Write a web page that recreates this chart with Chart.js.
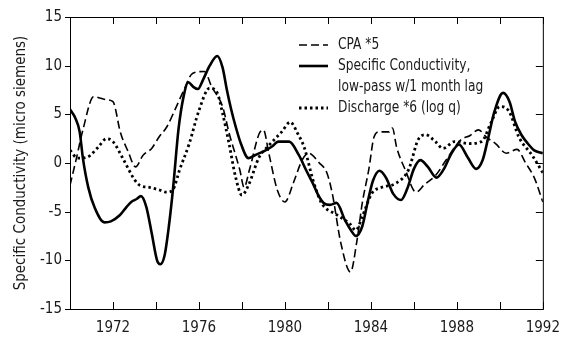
<!DOCTYPE html>
<html>
<head>
<meta charset="utf-8">
<script src="https://cdn.jsdelivr.net/npm/chart.js@4/dist/chart.umd.min.js"></script>
<style>
  html, body { margin: 0; padding: 0; background: #fff; }
  #wrap { width: 562px; height: 337px; position: relative; }
</style>
</head>
<body>
<div id="wrap"><canvas id="chart"></canvas></div>
<script>
// series (year, value)
const cpaYears = [1970.0, 1970.3, 1970.6, 1971.1, 1971.7, 1972.0, 1972.35, 1972.7, 1973.05, 1973.4, 1973.8, 1974.15, 1974.5,
  1974.95, 1975.3, 1975.7, 1976.25, 1976.6, 1977.1, 1977.4, 1977.9, 1978.1, 1978.35, 1978.8, 1979.0, 1979.25, 1979.65,
  1980.0, 1980.4, 1980.8, 1981.1, 1981.6, 1981.95, 1982.2, 1982.6, 1983.05, 1983.35, 1983.6, 1983.9, 1984.15, 1984.4,
  1984.85, 1985.0, 1985.2, 1985.6, 1986.1, 1986.5, 1987.0, 1987.5, 1988.2, 1988.6, 1989.0, 1989.4, 1989.8, 1990.3,
  1990.8, 1991.2, 1991.6, 1992.0];
const cpaValues = [-2.3, 0.5, 3.4, 6.8, 6.5, 6.3, 3.1, 1.2, -0.4, 0.8, 1.5, 2.7, 3.7,
  5.8, 7.5, 9.2, 9.4, 7.8, 5.8, 3.1, -0.7, -2.5, -0.7, 3.0, 3.4, 1.0, -2.8,
  -4.0, -2.0, 0.3, 1.0, 0.0, -1.0, -3.1, -8.2, -11.2, -8.0, -4.1, -0.7, 2.7, 3.2,
  3.2, 3.6, 1.6, -0.7, -3.0, -2.2, -1.3, 0.3, 2.4, 2.8, 3.4, 2.6, 2.0, 1.0,
  1.4, 0.0, -1.5, -4.0];

const condYears = [1970.0, 1970.25, 1970.45, 1970.6, 1970.85, 1971.15, 1971.6, 1971.9, 1972.3, 1972.6, 1972.85, 1973.1,
  1973.3, 1973.55, 1973.8, 1974.05, 1974.2, 1974.4, 1974.6, 1974.8, 1975.05, 1975.3, 1975.5, 1975.75, 1975.95, 1976.2,
  1976.5, 1976.85, 1977.1, 1977.3, 1977.5, 1977.7, 1977.95, 1978.3, 1978.6, 1979.1, 1979.4, 1979.7, 1980.2, 1980.65,
  1981.0, 1981.3, 1981.55, 1981.8, 1982.1, 1982.4, 1982.8, 1983.1, 1983.3, 1983.6, 1983.85, 1984.1, 1984.4, 1984.7,
  1985.05, 1985.4, 1985.7, 1986.0, 1986.3, 1986.65, 1987.05, 1987.4, 1987.75, 1988.1, 1988.5, 1988.9, 1989.2, 1989.45,
  1989.75, 1990.15, 1990.45, 1990.7, 1991.0, 1991.3, 1991.6, 1992.0];
const condValues = [5.5, 4.6, 3.2, 0.5, -2.5, -4.6, -6.1, -6.0, -5.4, -4.6, -4.0, -3.7,
  -3.4, -4.5, -7.2, -10.0, -10.4, -9.5, -6.5, -2.5, 3.5, 7.0, 8.3, 7.8, 7.6, 8.6,
  10.0, 11.0, 9.8, 7.5, 5.5, 3.8, 2.0, 0.5, 0.8, 1.3, 1.7, 2.2, 2.2, 0.8,
  -0.8, -2.1, -3.3, -4.1, -4.3, -4.1, -5.9, -7.0, -7.5, -6.5, -4.0, -1.8, -0.8, -1.5,
  -3.2, -3.8, -2.6, -0.6, 0.3, -0.4, -1.5, -0.6, 1.0, 1.9, 0.6, -0.6, 0.3, 2.5,
  5.3, 7.2, 6.3, 4.3, 2.9, 2.0, 1.3, 1.0];

const disYears = [1970.0, 1970.35, 1970.8, 1971.3, 1971.7, 1972.0, 1972.5, 1973.0, 1973.25, 1973.7, 1974.2, 1974.5,
  1974.8, 1975.1, 1975.55, 1976.0, 1976.5, 1976.85, 1977.1, 1977.4, 1977.7, 1978.0, 1978.3, 1978.8, 1979.25, 1979.85,
  1980.25, 1980.6, 1980.9, 1981.3, 1981.7, 1982.4, 1983.0, 1983.3, 1983.6, 1984.05, 1984.5, 1985.15, 1985.75, 1986.2,
  1986.55, 1987.0, 1987.35, 1987.9, 1988.55, 1989.15, 1989.6, 1990.0, 1990.4, 1990.9, 1991.5, 1992.0];
const disValues = [1.3, 0.5, 0.6, 1.6, 2.5, 2.2, 0.3, -1.7, -2.3, -2.5, -2.8, -3.0,
  -2.7, -0.7, 2.0, 5.4, 7.7, 7.2, 5.1, 2.0, -1.4, -3.3, -2.3, 0.6, 1.8, 3.2,
  4.2, 3.0, 1.6, -1.7, -4.1, -5.3, -6.2, -6.9, -5.5, -3.1, -2.5, -2.1, -0.7, 2.4,
  2.9, 2.2, 1.5, 2.2, 2.0, 2.2, 4.2, 5.8, 5.4, 2.6, 0.8, -1.0];

const yTicks = [-15, -10, -5, 0, 5, 10, 15];
const yTitle = 'Specific Conductivity (micro siemens)';
const legendItems = [
  { lines: ['CPA *5'], dash: [8, 4], width: 1.6 },
  { lines: ['Specific Conductivity,', 'low-pass w/1 month lag'], dash: [], width: 2.6 },
  { lines: ['Discharge *6 (log q)'], dash: [2.5, 3], width: 2.8 }
];

const FONT = "'Liberation Sans Narrow', 'Arial Narrow', 'DejaVu Sans Condensed', 'Liberation Sans', sans-serif";
const INK = '#1a1a1a';

function pts(xs, ys) {
  return xs.map((x, i) => ({ x: x, y: ys[i] }));
}

// frame, inward ticks, y title and legend
const decor = {
  id: 'decor',
  afterDraw(chart) {
    const ctx = chart.ctx;
    const a = chart.chartArea;
    const sx = chart.scales.x, sy = chart.scales.y;
    ctx.save();
    ctx.strokeStyle = '#000';
    ctx.lineWidth = 1;
    ctx.setLineDash([]);
    ctx.strokeRect(a.left + 0.5, a.top + 0.5, a.right - a.left, a.bottom - a.top);
    ctx.beginPath();
    for (let yr = 1970; yr <= 1992; yr += 2) {
      const px = Math.round(sx.getPixelForValue(yr)) + 0.5;
      ctx.moveTo(px, a.bottom); ctx.lineTo(px, a.bottom - 7);
      ctx.moveTo(px, a.top); ctx.lineTo(px, a.top + 7);
    }
    yTicks.forEach(v => {
      const py = Math.round(sy.getPixelForValue(v)) + 0.5;
      ctx.moveTo(a.left, py); ctx.lineTo(a.left - 5, py);
      ctx.moveTo(a.right, py); ctx.lineTo(a.right - 7, py);
    });
    ctx.stroke();

    ctx.fillStyle = INK;
    ctx.font = '15px ' + FONT;
    ctx.textAlign = 'center';
    ctx.textBaseline = 'middle';
    ctx.translate(21, (a.top + a.bottom) / 2);
    ctx.rotate(-Math.PI / 2);
    ctx.fillText(yTitle, 0, 0);
    ctx.setTransform(1, 0, 0, 1, 0, 0);

    let y = 45;
    ctx.font = '16px ' + FONT;
    legendItems.forEach(it => {
      ctx.beginPath();
      ctx.setLineDash(it.dash);
      ctx.lineWidth = it.width;
      ctx.strokeStyle = '#000';
      ctx.moveTo(299, y); ctx.lineTo(328, y);
      ctx.stroke();
      ctx.textAlign = 'left';
      it.lines.forEach((t, k) => {
        ctx.save();
        ctx.translate(338, y + k * 21);
        ctx.scale(0.85, 1);
        ctx.fillText(t, 0, 0);
        ctx.restore();
      });
      y += it.lines.length * 21;
    });
    ctx.restore();
  }
};

const ctx = document.getElementById('chart').getContext('2d');
new Chart(ctx, {
  type: 'line',
  data: {
    datasets: [
      { label: 'CPA *5', data: pts(cpaYears, cpaValues), borderColor: '#000', borderWidth: 1.6,
        borderDash: [8, 4], pointRadius: 0, cubicInterpolationMode: 'monotone' },
      { label: 'Specific Conductivity', data: pts(condYears, condValues), borderColor: '#000', borderWidth: 2.6,
        pointRadius: 0, cubicInterpolationMode: 'monotone' },
      { label: 'Discharge *6 (log q)', data: pts(disYears, disValues), borderColor: '#000', borderWidth: 2.8,
        borderDash: [2.5, 3], pointRadius: 0, cubicInterpolationMode: 'monotone' }
    ]
  },
  options: {
    responsive: true,
    maintainAspectRatio: false,
    animation: false,
    layout: { padding: { top: 17, right: 18, left: 0, bottom: 0 } },
    plugins: { legend: { display: false }, tooltip: { enabled: false } },
    scales: {
      x: {
        type: 'linear', min: 1970, max: 1992,
        grid: { display: false }, border: { display: false },
        ticks: {
          stepSize: 2, autoSkip: false, maxRotation: 0, padding: 2,
          color: INK, font: { size: 15, family: FONT },
          callback: v => (v % 4 === 0 ? String(v) : '')
        },
        afterFit: s => { s.height = 28; }
      },
      y: {
        min: -15, max: 15,
        grid: { display: false }, border: { display: false },
        ticks: { stepSize: 5, padding: 0, color: INK, font: { size: 15, family: FONT } },
        afterFit: s => { s.width = 70; }
      }
    }
  },
  plugins: [decor]
});
</script>
</body>
</html>
